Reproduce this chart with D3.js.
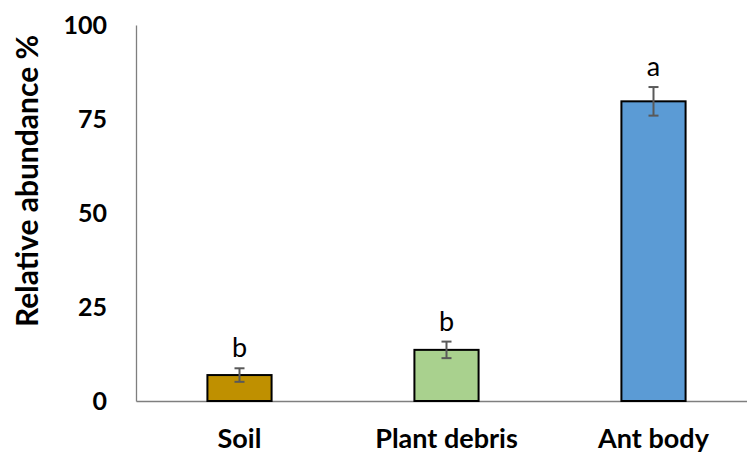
<!DOCTYPE html>
<html>
<head>
<meta charset="utf-8">
<script src="https://cdn.jsdelivr.net/npm/d3@7"></script>
<style>
  body { margin: 0; background: #fff; }
  text { font-family: Lato, "Open Sans", sans-serif; }
</style>
</head>
<body>
<svg id="chart" width="747" height="453"></svg>
<script>
// data
const categories = ['Soil', 'Plant debris', 'Ant body'];
const values = [6.9, 13.6, 79.7];
const errors = [1.8, 2.2, 3.8];
const letters = ['b', 'b', 'a'];
const colors = ['#BF9000', '#A9D18E', '#5B9BD5'];
const yTicks = [0, 25, 50, 75, 100];

const svg = d3.select('#chart');

const x = d3.scaleBand()
  .domain(categories)
  .range([136, 757])
  .paddingInner(0.69)
  .paddingOuter(0.345);

const y = d3.scaleLinear()
  .domain([0, 100])
  .range([401, 25]);

// y axis
const yAxis = svg.append('g')
  .attr('transform', 'translate(136,0)')
  .call(d3.axisLeft(y).tickValues(yTicks).tickSize(0).tickPadding(29));
yAxis.select('.domain').attr('stroke', '#7f7f7f').attr('stroke-width', 1.3);
yAxis.selectAll('text')
  .attr('font-size', 25)
  .attr('font-weight', 'bold')
  .attr('fill', '#000')
  .style('font-family', 'Lato, "Open Sans", sans-serif');

// x axis
const xAxis = svg.append('g')
  .attr('transform', 'translate(0,401)')
  .call(d3.axisBottom(x).tickSize(0));
xAxis.select('.domain').attr('stroke', '#7f7f7f').attr('stroke-width', 1.3);
xAxis.selectAll('text')
  .attr('y', 47)
  .attr('dy', 0)
  .attr('font-size', 27)
  .attr('font-weight', 'bold')
  .attr('fill', '#000')
  .style('font-family', 'Lato, "Open Sans", sans-serif');

// bars
svg.append('g')
  .selectAll('rect')
  .data(categories)
  .join('rect')
  .attr('x', d => x(d))
  .attr('y', (d, i) => y(values[i]))
  .attr('width', x.bandwidth())
  .attr('height', (d, i) => y(0) - y(values[i]))
  .attr('fill', (d, i) => colors[i])
  .attr('stroke', '#000')
  .attr('stroke-width', 2);

// error bars
const eb = svg.append('g')
  .attr('stroke', '#595959')
  .attr('stroke-width', 2);
categories.forEach((c, i) => {
  const cx = x(c) + x.bandwidth() / 2;
  const lo = y(values[i] - errors[i]);
  const hi = y(values[i] + errors[i]);
  eb.append('line').attr('x1', cx).attr('x2', cx).attr('y1', lo).attr('y2', hi);
  eb.append('line').attr('x1', cx - 5).attr('x2', cx + 5).attr('y1', lo).attr('y2', lo);
  eb.append('line').attr('x1', cx - 5).attr('x2', cx + 5).attr('y1', hi).attr('y2', hi);
});

// significance letters
svg.append('g')
  .selectAll('text')
  .data(categories)
  .join('text')
  .attr('x', d => x(d) + x.bandwidth() / 2)
  .attr('y', (d, i) => y(values[i] + errors[i]) - 11)
  .attr('text-anchor', 'middle')
  .attr('font-size', 27)
  .attr('fill', '#000')
  .text((d, i) => letters[i]);

// y title
svg.append('text')
  .attr('transform', 'translate(38,181) rotate(-90)')
  .attr('text-anchor', 'middle')
  .attr('font-size', 30)
  .attr('font-weight', 'bold')
  .attr('fill', '#000')
  .text('Relative abundance %');
</script>
</body>
</html>
